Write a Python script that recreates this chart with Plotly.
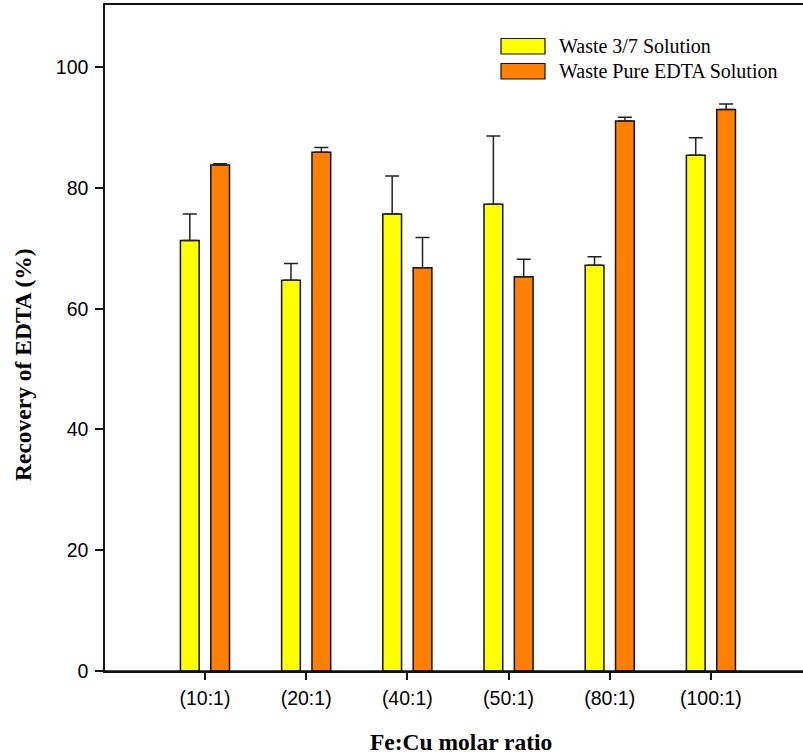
import plotly.graph_objects as go

categories = ["(10:1)", "(20:1)", "(40:1)", "(50:1)", "(80:1)", "(100:1)"]
series_names = ["Waste 3/7 Solution", "Waste Pure EDTA Solution"]
waste_37 = [71.3, 64.7, 75.7, 77.3, 67.2, 85.4]
waste_37_err = [4.4, 2.8, 6.3, 11.3, 1.4, 2.9]
waste_pure = [83.8, 85.9, 66.8, 65.3, 91.1, 93.0]
waste_pure_err = [0.2, 0.8, 5.0, 2.9, 0.6, 0.9]
y_ticks = [0, 20, 40, 60, 80, 100]
colors = ["#FFFF00", "#FF8000"]

x_pos = list(range(len(categories)))

fig = go.Figure()
for name, vals, errs, col in [
    (series_names[0], waste_37, waste_37_err, colors[0]),
    (series_names[1], waste_pure, waste_pure_err, colors[1]),
]:
    fig.add_trace(go.Bar(
        x=x_pos, y=vals, name=name,
        marker=dict(color=col, line=dict(color="#111111", width=1.5)),
        error_y=dict(type="data", symmetric=False, array=errs,
                     arrayminus=[0] * len(errs),
                     color="#222222", thickness=1.5, width=7),
        showlegend=False,
    ))

W, H = 803, 756
L, R, T, B = 105, 0, 5, 85
pw, ph = W - L - R, H - T - B

def px(x):
    return (x - L) / pw

def py(y):
    return (H - B - y) / ph

shapes = [
    # bottom axis extends slightly left of y-axis
    dict(type="line", xref="paper", yref="paper", x0=px(97), x1=1, y0=0, y1=0,
         line=dict(color="#111111", width=1.5)),
]
annotations = []
legend_rows = [(38.5, 54.0), (63.5, 79.0)]
for (y0, y1), name, col in zip(legend_rows, series_names, colors):
    shapes.append(dict(type="rect", xref="paper", yref="paper",
                       x0=px(501), x1=px(545), y0=py(y1), y1=py(y0),
                       fillcolor=col, line=dict(color="#111111", width=1.2)))
    annotations.append(dict(xref="paper", yref="paper", x=px(557), y=py((y0 + y1) / 2),
                            text=name, showarrow=False, xanchor="left", yanchor="middle",
                            font=dict(family="Liberation Serif", size=20, color="black")))

annotations.append(dict(xref="paper", yref="paper", x=px(23), y=py(365),
                        text="<b>Recovery of EDTA (%)</b>", textangle=-90, showarrow=False,
                        xanchor="center", yanchor="middle",
                        font=dict(family="Liberation Serif", size=23.5, color="black")))
annotations.append(dict(xref="paper", yref="paper", x=px(461), y=py(742),
                        text="<b>Fe:Cu molar ratio</b>", showarrow=False,
                        xanchor="center", yanchor="middle",
                        font=dict(family="Liberation Serif", size=23.5, color="black")))

fig.update_layout(
    width=W, height=H,
    margin=dict(l=L, r=R, t=T, b=B, pad=0),
    paper_bgcolor="white", plot_bgcolor="white",
    barmode="group", bargap=0.4, bargroupgap=0.383,
    shapes=shapes, annotations=annotations,
    font=dict(family="Liberation Sans", size=19.5, color="black"),
)
fig.update_xaxes(
    range=[-0.988, 5.91], tickvals=x_pos, ticktext=categories,
    showline=True, linecolor="#111111", linewidth=1.5, mirror=True,
    ticks="outside", ticklen=7, tickwidth=1.5, tickcolor="#111111",
    showgrid=False, zeroline=False, ticklabelstandoff=2,
)
fig.update_yaxes(
    range=[0, 110.3], tickvals=y_ticks,
    showline=True, linecolor="#111111", linewidth=1.5,
    ticks="outside", ticklen=8, tickwidth=1.5, tickcolor="#111111",
    showgrid=False, zeroline=False, ticklabelstandoff=3,
)

fig.write_html("out.html")
